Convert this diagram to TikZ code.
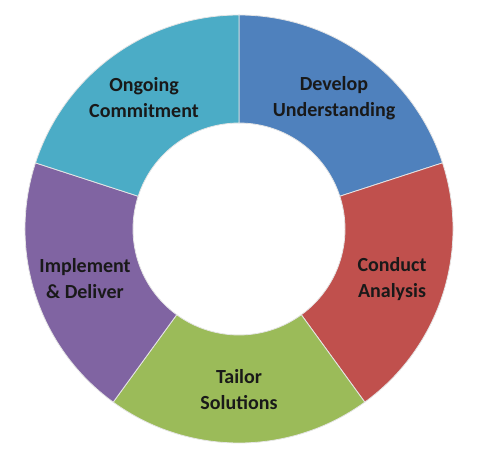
\documentclass[tikz,border=0pt]{standalone}
\usepackage{fontspec}
\setmainfont{Carlito}
\usetikzlibrary{calc}
\definecolor{cblue}{HTML}{4F81BD}
\definecolor{cred}{HTML}{C0504D}
\definecolor{cgreen}{HTML}{9BBB59}
\definecolor{cpurple}{HTML}{8064A2}
\definecolor{cteal}{HTML}{4BACC6}
\begin{document}
\begin{tikzpicture}[x=1pt,y=1pt,
  seg/.style={draw=white!80!gray, line width=0.8pt},
  lbl/.style={font=\fontsize{20}{26}\selectfont\bfseries, align=center, text=black!90}]
\useasboundingbox (0,0) rectangle (478,455);
\coordinate (c) at (239,226);
\def\Ro{214}\def\Ri{106}
\foreach \a/\col in {90/cblue,18/cred,-54/cgreen,-126/cpurple,-198/cteal}{
  \path[seg, fill=\col] ($(c)+(\a:\Ro)$) arc[start angle=\a, end angle=\a-72, radius=\Ro]
    -- ($(c)+(\a-72:\Ri)$) arc[start angle=\a-72, end angle=\a, radius=\Ri] -- cycle;
}
\node[lbl] (d) at (334,357) {Develop\\Understanding};
\node[lbl] (o) at (144,357) {Ongoing\\Commitment};
\node[lbl] (ca) at (392,176) {Conduct\\Analysis};
\node[lbl] (im) at (85,176) {Implement\\\& Deliver};
\node[lbl] (t) at (239,65) {Tailor\\Solutions};
\end{tikzpicture}
\end{document}
